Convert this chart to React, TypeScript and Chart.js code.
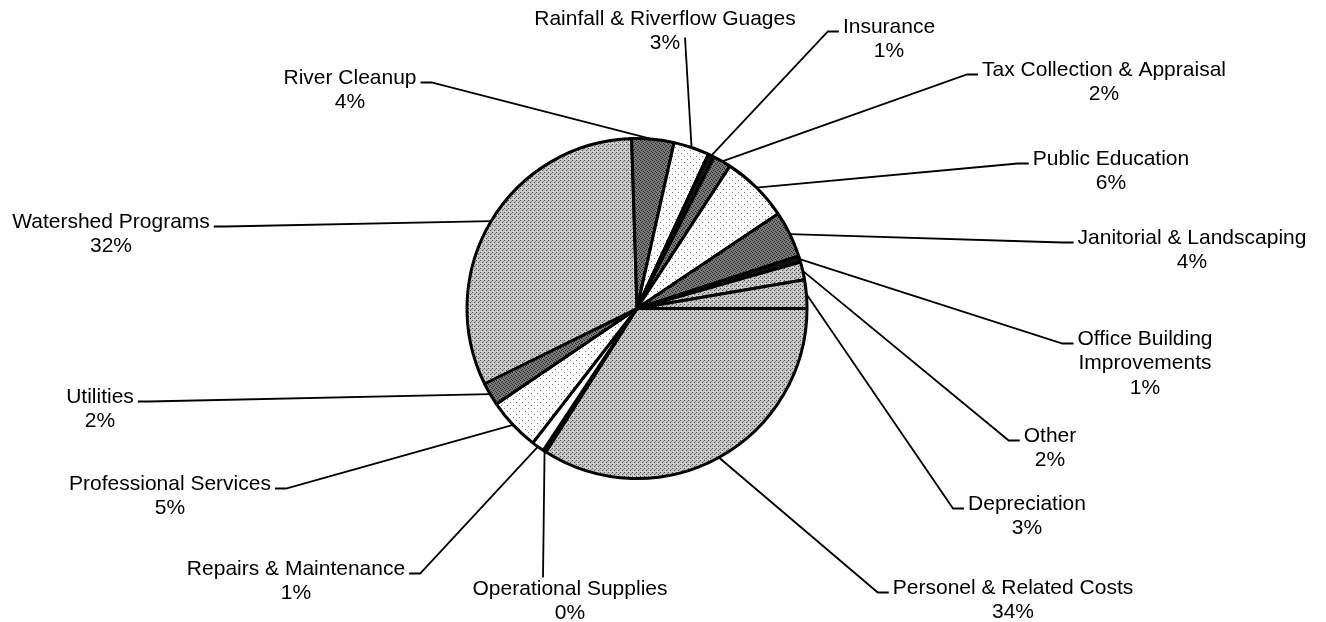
import React, { useEffect, useRef } from 'react';
import { Chart, registerables } from 'chart.js';

Chart.register(...registerables);

// ---- data ----
const CATEGORIES: string[] = [
  'Personel & Related Costs',
  'Operational Supplies',
  'Repairs & Maintenance',
  'Professional Services',
  'Utilities',
  'Watershed Programs',
  'River Cleanup',
  'Rainfall & Riverflow Guages',
  'Insurance',
  'Tax Collection & Appraisal',
  'Public Education',
  'Janitorial & Landscaping',
  'Office Building Improvements',
  'Other',
  'Depreciation',
];
const VALUES: number[] = [34, 0.3, 1.2, 5, 2.2, 31.8, 4, 3.4, 0.6, 1.7, 6.4, 4.4, 0.6, 1.7, 2.7];
const PERCENT_LABELS: string[] = ['34%', '0%', '1%', '5%', '2%', '32%', '4%', '3%', '1%', '2%', '6%', '4%', '1%', '2%', '3%'];
// label text lines (name split where the reference wraps)
const NAME_LINES: string[][] = [
  ['Personel & Related Costs'],
  ['Operational Supplies'],
  ['Repairs & Maintenance'],
  ['Professional Services'],
  ['Utilities'],
  ['Watershed Programs'],
  ['River Cleanup'],
  ['Rainfall & Riverflow Guages'],
  ['Insurance'],
  ['Tax Collection & Appraisal'],
  ['Public Education'],
  ['Janitorial & Landscaping'],
  ['Office Building', 'Improvements'],
  ['Other'],
  ['Depreciation'],
];

// ---- styles / layout (not data) ----
const FILL_KIND: string[] = ['light', 'black', 'white', 'dots', 'dark', 'light', 'dark', 'dots', 'black', 'dark', 'dots', 'dark', 'black', 'light', 'light'];
// label anchor: centre x / first baseline offset from pie centre; side where the leader attaches
type LabelLayout = { dx: number; dy: number; side: 'left' | 'right' | 'point'; ax?: number; ay?: number };
const LABEL_LAYOUT: LabelLayout[] = [
  { dx: 376, dy: 285, side: 'left' },
  { dx: -67, dy: 286, side: 'point', ax: -94, ay: 269 },
  { dx: -341, dy: 266, side: 'right' },
  { dx: -467, dy: 181, side: 'right' },
  { dx: -537, dy: 94, side: 'right' },
  { dx: -526, dy: -81, side: 'right' },
  { dx: -287, dy: -225, side: 'right' },
  { dx: 28, dy: -284, side: 'point', ax: 48, ay: -271 },
  { dx: 252, dy: -276, side: 'left' },
  { dx: 467, dy: -233, side: 'left' },
  { dx: 474, dy: -144, side: 'left' },
  { dx: 555, dy: -65, side: 'left' },
  { dx: 508, dy: 36, side: 'left' },
  { dx: 413, dy: 133, side: 'left' },
  { dx: 390, dy: 201, side: 'left' },
];

const FONT = '21px "Liberation Sans", Arial, sans-serif';
const LINE_H = 24.5;

function makePattern(kind: string): CanvasPattern | string {
  const c = document.createElement('canvas');
  const g = c.getContext('2d');
  if (!g) return '#ccc';
  if (kind === 'light') {
    c.width = 4; c.height = 4;
    g.fillStyle = '#c4c4c4'; g.fillRect(0, 0, 4, 4);
    g.fillStyle = '#505050'; g.fillRect(0, 0, 1, 1); g.fillRect(2, 2, 1, 1);
    g.fillStyle = '#8c8c8c'; g.fillRect(3, 1, 1, 1);
    g.fillStyle = '#e8e8e8'; g.fillRect(1, 3, 1, 1);
  } else if (kind === 'dark') {
    c.width = 4; c.height = 4;
    g.fillStyle = '#7a7a7a'; g.fillRect(0, 0, 4, 4);
    g.fillStyle = '#262626';
    g.fillRect(0, 0, 1, 1); g.fillRect(2, 1, 1, 1); g.fillRect(1, 2, 1, 1); g.fillRect(3, 3, 1, 1);
  } else if (kind === 'dots') {
    c.width = 6; c.height = 6;
    g.fillStyle = '#ffffff'; g.fillRect(0, 0, 6, 6);
    g.fillStyle = '#808080'; g.fillRect(0, 0, 1, 1); g.fillRect(3, 3, 1, 1);
  } else if (kind === 'black') {
    return '#111111';
  } else {
    return '#ffffff';
  }
  const p = g.createPattern(c, 'repeat');
  return p || '#ccc';
}

const labelPlugin = {
  id: 'outerLabels',
  afterDraw(chart: any) {
    const ctx: CanvasRenderingContext2D = chart.ctx;
    const meta = chart.getDatasetMeta(0);
    ctx.save();
    ctx.font = FONT;
    ctx.fillStyle = '#000';
    ctx.strokeStyle = '#000';
    ctx.lineWidth = 1.8;
    ctx.textAlign = 'center';
    ctx.textBaseline = 'alphabetic';
    meta.data.forEach((arc: any, i: number) => {
      const p = arc.getProps(['x', 'y', 'startAngle', 'endAngle', 'outerRadius'], true);
      const mid = (p.startAngle + p.endAngle) / 2;
      const x0 = p.x + Math.cos(mid) * p.outerRadius;
      const y0 = p.y + Math.sin(mid) * p.outerRadius;
      const lay = LABEL_LAYOUT[i];
      const cx = p.x + lay.dx;
      const by = p.y + lay.dy;
      const lines = [...NAME_LINES[i], PERCENT_LABELS[i]];
      const w0 = ctx.measureText(lines[0]).width;
      let x1: number, y1: number, x2: number, y2: number;
      if (lay.side === 'left') {
        x2 = cx - w0 / 2 - 4; y2 = by - 1;
        x1 = x2 - 11; y1 = y2;
      } else if (lay.side === 'right') {
        x2 = cx + w0 / 2 + 4; y2 = by - 1;
        x1 = x2 + 11; y1 = y2;
      } else {
        x2 = p.x + (lay.ax || 0); y2 = p.y + (lay.ay || 0);
        x1 = x2; y1 = y2;
      }
      ctx.beginPath();
      ctx.moveTo(x0, y0);
      ctx.lineTo(x1, y1);
      ctx.lineTo(x2, y2);
      ctx.stroke();
      lines.forEach((t, k) => ctx.fillText(t, cx, by + k * LINE_H));
    });
    ctx.restore();
  },
};

export default function App() {
  const ref = useRef<HTMLCanvasElement | null>(null);
  useEffect(() => {
    if (!ref.current) return;
    const fills = FILL_KIND.map(makePattern);
    const chart = new Chart(ref.current, {
      type: 'pie',
      data: {
        labels: CATEGORIES,
        datasets: [
          {
            data: VALUES,
            backgroundColor: fills as any,
            borderColor: '#000',
            borderWidth: 3,
          },
        ],
      },
      options: {
        animation: false,
        responsive: true,
        maintainAspectRatio: false,
        rotation: 90,
        layout: { padding: { top: 137, bottom: 142, left: 0, right: 52 } },
        plugins: {
          legend: { display: false },
          tooltip: { enabled: false },
        },
        events: [],
      },
      plugins: [labelPlugin],
    });
    return () => chart.destroy();
  }, []);
  return (
    <div style={{ position: 'fixed', left: 0, top: 0, width: 1326, height: 622, background: '#fff' }}>
      <canvas ref={ref} />
    </div>
  );
}
